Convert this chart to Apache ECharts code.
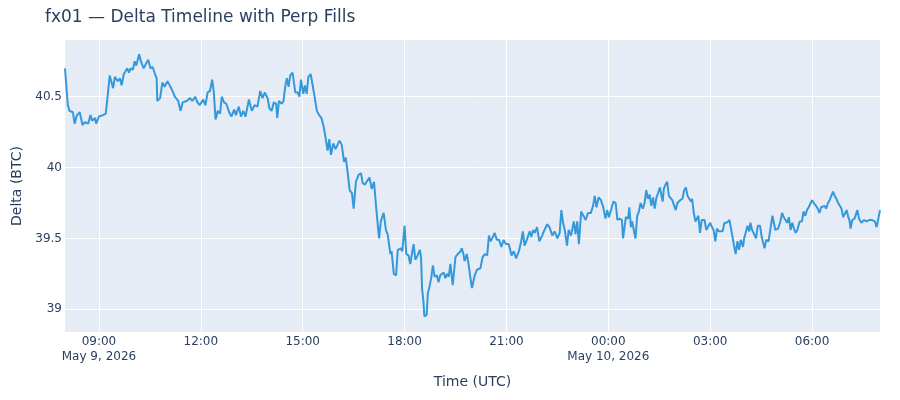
<!DOCTYPE html>
<html><head><meta charset="utf-8">
<script src="https://cdn.jsdelivr.net/npm/echarts@6/dist/echarts.min.js"></script>
<style>html,body{margin:0;padding:0;background:#fff}#c{width:900px;height:400px}</style>
</head><body><div id="c"></div>
<script>
// ---- data ----
const DAY0_UTC = '2026-05-09T00:00:00Z';  // x axis counts hours from this instant
const START_HOUR = 8;                      // first sample: 08:00 UTC, May 9
const END_HOUR = 32;                       // last sample: 08:00 UTC, May 10
const xTickStepHours = 3;
const yTicks = [39, 39.5, 40, 40.5];
const titleText = 'fx01 — Delta Timeline with Perp Fills';

// minutes after the first sample, and delta (BTC) at that time
const minutesA = [0,5,8,14,17,21,26,31,35,41,45,48,53,55,60,67,72,75,79,82,85,88,93,97,100,104,110,113,116,120,123,126,131,135,139,144,147,151,155,159,162,163,168,172,176,181,185,190,194,200,204,208,215,221,225,230,234,238];
const deltaA = [40.70,40.44,40.40,40.39,40.31,40.37,40.39,40.30,40.32,40.31,40.37,40.33,40.35,40.31,40.36,40.37,40.38,40.49,40.65,40.66,40.56,40.64,40.61,40.63,40.58,40.66,40.70,40.67,40.70,40.69,40.75,40.72,40.80,40.74,40.70,40.74,40.76,40.70,40.71,40.66,40.63,40.47,40.49,40.60,40.57,40.61,40.58,40.54,40.50,40.47,40.40,40.46,40.47,40.49,40.47,40.50,40.46,40.44];

const minutesB = [241,244,248,252,256,260,263,266,270,274,277,281,285,290,294,299,302,307,311,315,319,325,330,335,340,345,349,353,358,361,365,369,373,375,378,383,386,389,392,395,398,402,407,411,414,417,421,424,427,430,434,438,441,445,449,453,457,460,464,467,470,474,478];
const deltaB = [40.44,40.48,40.44,40.53,40.54,40.62,40.53,40.34,40.40,40.38,40.50,40.46,40.45,40.39,40.36,40.41,40.37,40.43,40.36,40.40,40.36,40.48,40.40,40.44,40.43,40.54,40.49,40.53,40.49,40.42,40.40,40.46,40.45,40.35,40.47,40.45,40.47,40.57,40.63,40.57,40.65,40.67,40.53,40.53,40.50,40.62,40.52,40.58,40.52,40.64,40.66,40.57,40.50,40.40,40.37,40.35,40.29,40.22,40.12,40.20,40.09,40.17,40.13];

const minutesC = [485,489,493,496,499,503,507,510,514,519,523,526,530,533,538,542,546,550,553,555,558,563,567,570,575,577,581,585,588,591,593,596,600,603,607,610,613,616,619,623,627,629,631,633,635,639,641,644,647,650,653,657,660,663,666,669,672,675,678,681,685,690,694,699,701,704,706,710,713,716,719];
const deltaC = [40.19,40.16,40.04,40.07,39.98,39.84,39.82,39.71,39.90,39.95,39.96,39.89,39.88,39.90,39.93,39.85,39.90,39.71,39.58,39.50,39.62,39.68,39.56,39.53,39.39,39.41,39.25,39.24,39.42,39.41,39.43,39.41,39.59,39.39,39.38,39.32,39.39,39.46,39.35,39.38,39.42,39.37,39.14,39.07,38.95,38.96,39.11,39.16,39.22,39.31,39.23,39.24,39.19,39.24,39.23,39.26,39.22,39.25,39.23,39.32,39.17,39.37,39.39,39.41,39.43,39.39,39.34,39.39,39.32,39.23,39.15];

const minutesD = [724,728,734,738,742,746,749,752,756,759,763,767,771,775,779,784,789,793,797,802,806,809,812,816,821,824,827,830,834,838,842,846,852,856,861,865,870,874,877,880,883,887,890,894,899,902,905,908,912,916,920,924,929,933,936,939,943,947,951,955,958];
const deltaD = [39.24,39.28,39.29,39.37,39.39,39.38,39.52,39.48,39.51,39.54,39.49,39.49,39.44,39.49,39.46,39.46,39.38,39.41,39.36,39.41,39.48,39.55,39.45,39.49,39.55,39.51,39.56,39.54,39.58,39.48,39.51,39.55,39.60,39.58,39.52,39.55,39.50,39.54,39.70,39.61,39.56,39.45,39.56,39.52,39.62,39.53,39.62,39.46,39.69,39.66,39.63,39.68,39.68,39.73,39.80,39.72,39.79,39.77,39.72,39.64,39.70];

const minutesE = [961,964,969,973,976,980,984,986,989,991,995,997,1000,1002,1005,1008,1011,1014,1017,1021,1024,1027,1030,1033,1036,1039,1042,1045,1048,1051,1054,1056,1058,1061,1064,1067,1070,1073,1076,1079,1082,1087,1091,1094,1097,1100,1103,1106,1108,1111,1114,1117,1119,1122,1125,1128,1130,1133,1136,1140,1143,1146,1149,1152,1155,1158,1162,1165,1169,1174,1177,1179,1182,1185,1188,1191,1194];
const deltaE = [39.65,39.69,39.76,39.75,39.63,39.64,39.63,39.50,39.51,39.65,39.64,39.72,39.58,39.62,39.61,39.50,39.66,39.69,39.75,39.71,39.75,39.84,39.78,39.81,39.73,39.79,39.71,39.79,39.82,39.86,39.80,39.76,39.85,39.88,39.90,39.80,39.79,39.77,39.78,39.70,39.75,39.77,39.78,39.84,39.86,39.80,39.80,39.76,39.78,39.68,39.62,39.63,39.66,39.54,39.63,39.62,39.63,39.56,39.57,39.61,39.58,39.56,39.48,39.57,39.55,39.56,39.55,39.61,39.61,39.63,39.62,39.52,39.45,39.39,39.48,39.42,39.49];

const minutesF = [1198,1200,1203,1206,1209,1211,1214,1217,1221,1224,1228,1231,1234,1236,1239,1243,1246,1250,1253,1255,1260,1264,1267,1270,1273,1276,1279,1282,1285,1288,1291,1294,1298,1302,1305,1308,1311,1314,1317,1320,1323,1327,1330,1333,1336,1339,1342,1345,1348,1351,1354,1357,1360,1363,1366,1369,1372,1375,1378,1381,1384,1386,1388,1391,1395,1400,1403,1407,1412,1416,1421,1426,1431,1434,1437,1440];
const deltaF = [39.44,39.50,39.51,39.59,39.55,39.61,39.56,39.57,39.50,39.59,39.59,39.51,39.50,39.43,39.49,39.48,39.49,39.66,39.65,39.56,39.57,39.62,39.68,39.65,39.64,39.61,39.65,39.56,39.61,39.57,39.54,39.56,39.62,39.62,39.69,39.66,39.70,39.72,39.73,39.77,39.75,39.73,39.71,39.68,39.72,39.71,39.73,39.71,39.75,39.77,39.80,39.83,39.80,39.78,39.75,39.73,39.71,39.65,39.66,39.70,39.65,39.63,39.57,39.63,39.64,39.70,39.64,39.61,39.63,39.62,39.63,39.63,39.62,39.58,39.64,39.70];

// ---- build ----
const minutes = [].concat(minutesA, minutesB, minutesC, minutesD, minutesE, minutesF);
const delta = [].concat(deltaA, deltaB, deltaC, deltaD, deltaE, deltaF);
const n = Math.min(minutes.length, delta.length);
const points = [];
for (let i = 0; i < n; i++) points.push([START_HOUR + minutes[i] / 60, delta[i]]);

const day0 = Date.parse(DAY0_UTC);
const H = 3600000;
const MONTHS = ['Jan','Feb','Mar','Apr','May','Jun','Jul','Aug','Sep','Oct','Nov','Dec'];
function pad(v){ return (v < 10 ? '0' : '') + v; }
const INK = '#2a3f5f';
const FONT = 'DejaVu Sans';
const firstTick = Math.ceil(START_HOUR / xTickStepHours) * xTickStepHours;

const chart = echarts.init(document.getElementById('c'), null, {renderer: 'canvas'});
chart.setOption({
  animation: false,
  backgroundColor: '#ffffff',
  textStyle: { fontFamily: FONT, color: INK },
  title: {
    text: titleText, left: 40, top: 4,
    textStyle: { fontFamily: FONT, fontSize: 17, fontWeight: 'normal', color: INK }
  },
  grid: { left: 65, right: 20, top: 40, bottom: 68, show: true, backgroundColor: '#E5ECF6', borderWidth: 0, containLabel: false },
  xAxis: {
    type: 'value', min: START_HOUR, max: END_HOUR,
    minInterval: xTickStepHours, maxInterval: xTickStepHours, splitNumber: 8,
    name: 'Time (UTC)', nameLocation: 'middle', nameGap: 43,
    nameTextStyle: { fontFamily: FONT, fontSize: 14, color: INK },
    axisLine: { show: false }, axisTick: { show: false },
    splitLine: { show: true, showMinLine: false, showMaxLine: false, lineStyle: { color: '#ffffff', width: 1 } },
    axisLabel: {
      showMinLabel: false, showMaxLabel: false, margin: 3,
      fontFamily: FONT, fontSize: 12, color: INK, lineHeight: 14.5,
      formatter: function (v) {
        const r = Math.round(v);
        if (Math.abs(v - r) > 1e-6 || r % xTickStepHours !== 0) return '';
        const d = new Date(day0 + r * H);
        let s = pad(d.getUTCHours()) + ':' + pad(d.getUTCMinutes());
        if (d.getUTCHours() === 0 || r === firstTick) {
          s += '\n' + MONTHS[d.getUTCMonth()] + ' ' + d.getUTCDate() + ', ' + d.getUTCFullYear();
        }
        return s;
      }
    }
  },
  yAxis: {
    type: 'value', min: 38.84, max: 40.9,
    minInterval: 0.5, maxInterval: 0.5, splitNumber: 4,
    name: 'Delta (BTC)', nameLocation: 'middle', nameGap: 41,
    nameTextStyle: { fontFamily: FONT, fontSize: 14, color: INK },
    axisLine: { show: false }, axisTick: { show: false },
    splitLine: { show: true, showMinLine: false, showMaxLine: false, lineStyle: { color: '#ffffff', width: 1 } },
    axisLabel: {
      showMinLabel: false, showMaxLabel: false, margin: 3,
      fontFamily: FONT, fontSize: 12, color: INK,
      formatter: function (v) {
        for (const t of yTicks) if (Math.abs(v - t) < 1e-9) return String(t);
        return '';
      }
    }
  },
  series: [{
    type: 'line', data: points, showSymbol: false, symbol: 'none',
    lineStyle: { color: '#3498db', width: 2 }, clip: true
  }]
});
</script>
</body></html>
